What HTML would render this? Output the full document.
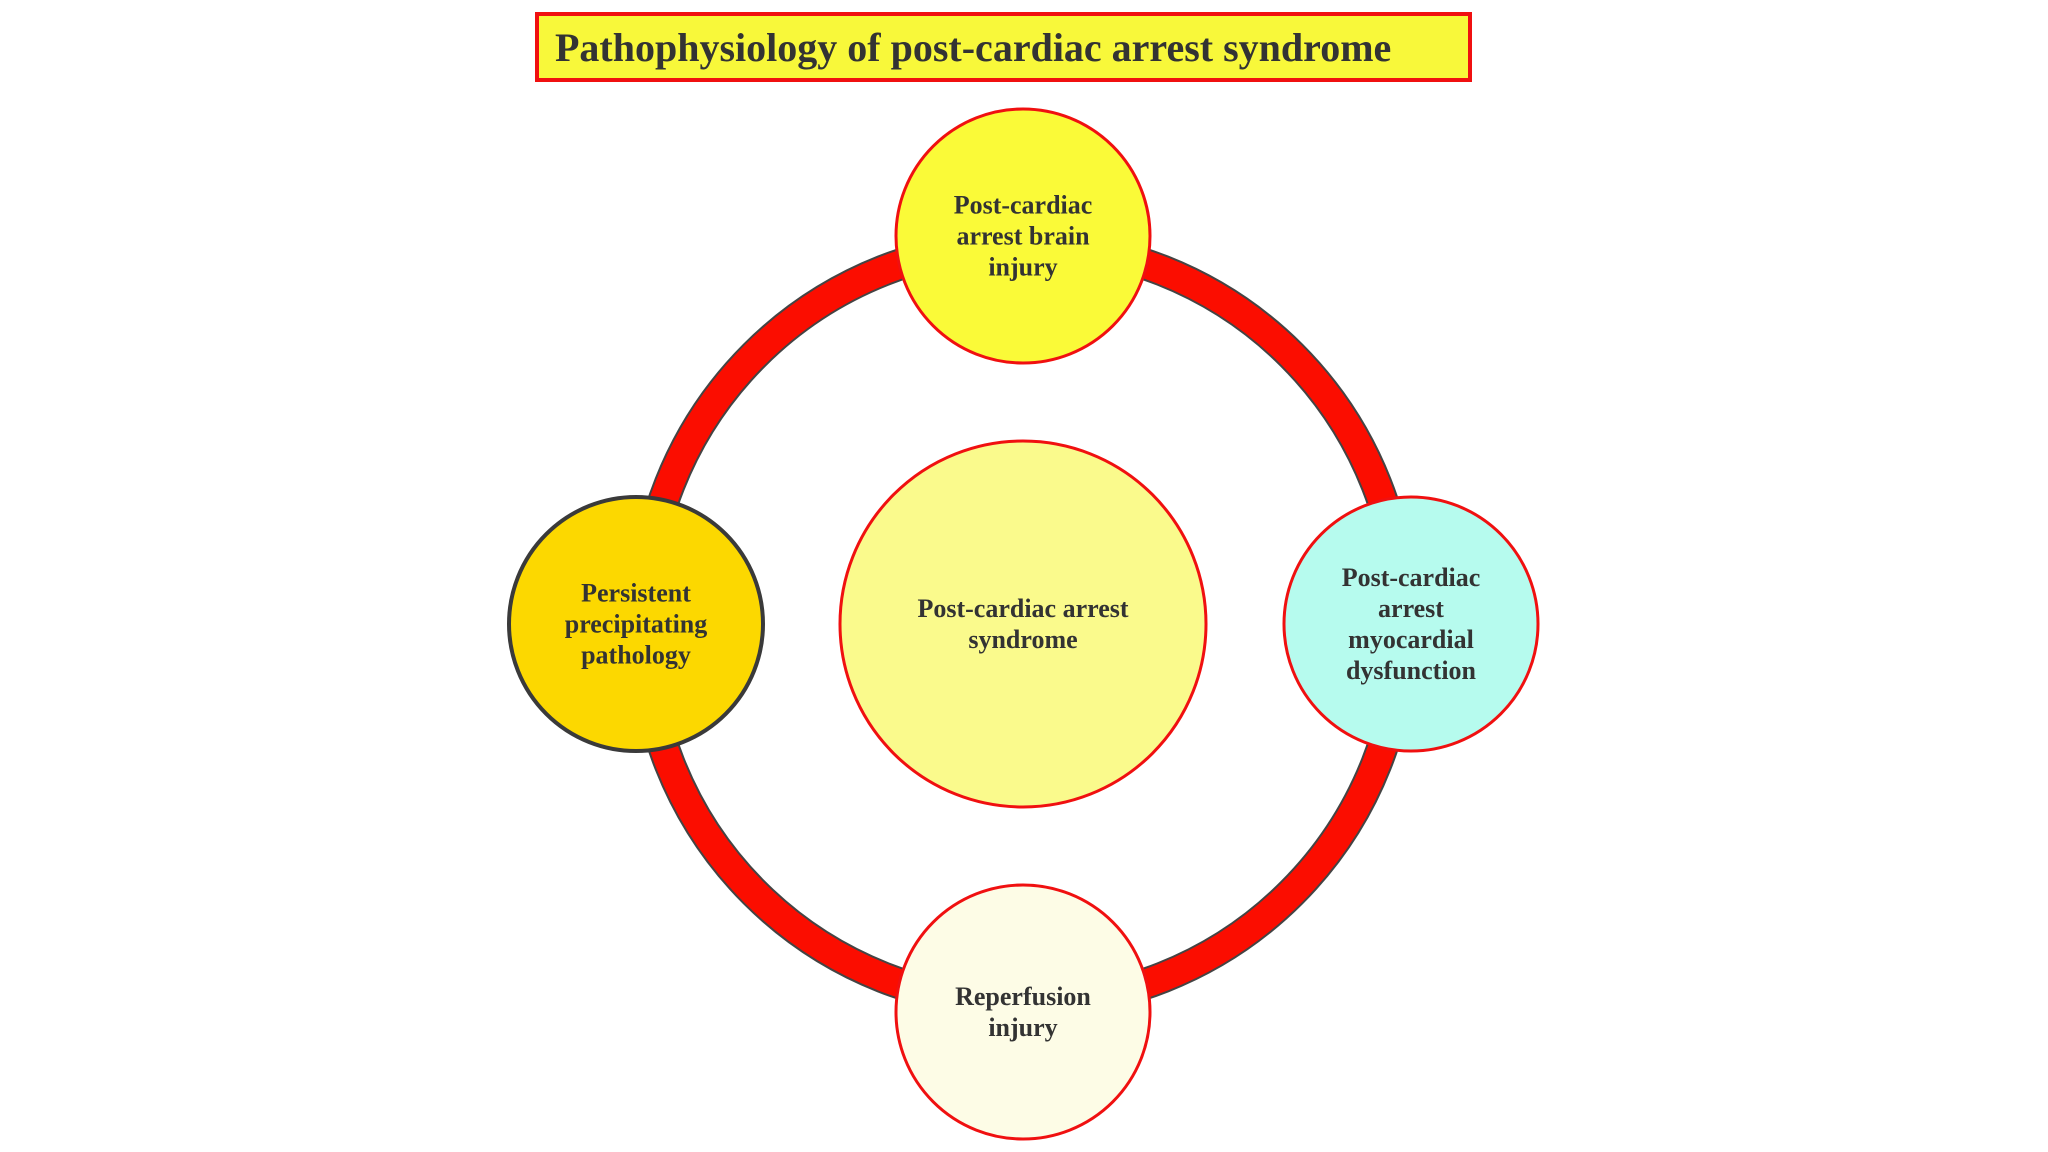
<!DOCTYPE html>
<html><head><meta charset="utf-8"><style>
html,body{margin:0;padding:0;background:#fff;}
body{width:2048px;height:1152px;position:relative;overflow:hidden;font-family:"Liberation Serif",serif;}
.title{position:absolute;left:535px;top:12px;width:931px;height:64px;background:#f8f83a;border:4px solid #f01010;box-sizing:content-box;font-weight:bold;font-size:40px;color:#333;line-height:64px;padding-left:16px;box-sizing:border-box;width:937px;height:70px;}
.lbl{position:absolute;transform:translate(-50%,-50%);text-align:center;font-weight:bold;font-size:26px;line-height:31px;color:#333;white-space:nowrap;}
</style></head><body>
<div class="title">Pathophysiology of post-cardiac arrest syndrome</div>
<svg width="2048" height="1152" style="position:absolute;left:0;top:0">
<circle cx="1023" cy="624" r="380" fill="none" stroke="#444" stroke-width="32"/>
<circle cx="1023" cy="624" r="380" fill="none" stroke="#fb0d00" stroke-width="28"/>
<circle cx="1023" cy="236" r="127" fill="#fafa38" stroke="#f01010" stroke-width="3"/>
<circle cx="636" cy="624" r="127" fill="#fcd800" stroke="#3a3a3a" stroke-width="4"/>
<circle cx="1411" cy="624" r="127" fill="#b6fbee" stroke="#f01010" stroke-width="3"/>
<circle cx="1023" cy="1012" r="127" fill="#fdfce6" stroke="#f01010" stroke-width="3"/>
<circle cx="1023" cy="624" r="183" fill="#fafa8c" stroke="#f01010" stroke-width="3"/>
</svg>
<div class="lbl" style="left:1023px;top:236px">Post-cardiac<br>arrest brain<br>injury</div>
<div class="lbl" style="left:636px;top:624px">Persistent<br>precipitating<br>pathology</div>
<div class="lbl" style="left:1411px;top:624px">Post-cardiac<br>arrest<br>myocardial<br>dysfunction</div>
<div class="lbl" style="left:1023px;top:1012px">Reperfusion<br>injury</div>
<div class="lbl" style="left:1023px;top:624px">Post-cardiac arrest<br>syndrome</div>
</body></html>
